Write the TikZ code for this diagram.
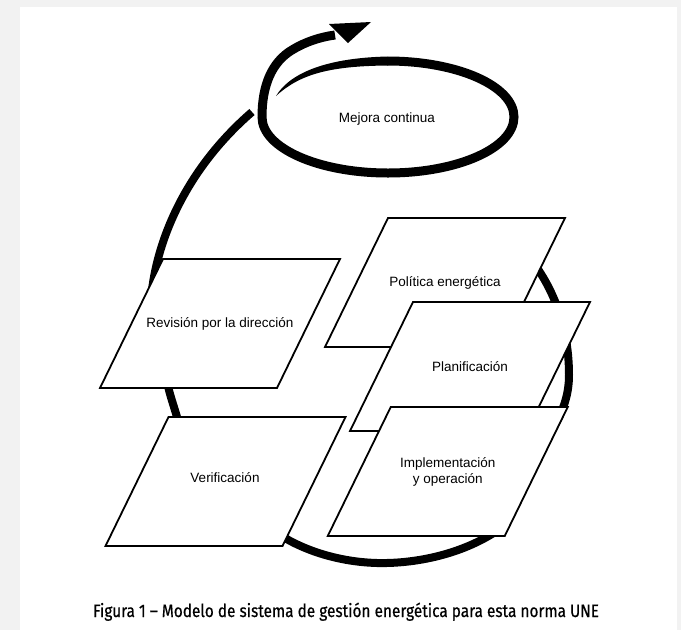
\documentclass[tikz,border=0pt]{standalone}
\usepackage{fontspec}
\setmainfont{Liberation Sans}
\newfontfamily\capfont{Fira Sans}[FakeBold=0.6]
\usepackage{graphicx}
\definecolor{bggray}{HTML}{F2F2F2}
\tikzset{
  loopline/.style={line width=8pt, line cap=butt, black},
  spiralline/.style={line width=9pt, line cap=butt, black},
  pgramstyle/.style={fill=white, draw=black, line width=1.8pt, line join=miter},
  boxtext/.style={font=\fontsize{13.5}{16}\selectfont, align=center, inner sep=0pt},
  captext/.style={font=\capfont\fontsize{18}{20}\selectfont, inner sep=0pt, anchor=base}
}
\newcommand{\pgram}[4]{%
  \filldraw[pgramstyle] (#2-57,#3-64.5) -- (#2+120,#3-64.5) -- (#2+57,#3+64.5) -- (#2-120,#3+64.5) -- cycle;
  \node[boxtext] (#1) at (#2,#3) {#4};
}
\begin{document}
\begin{tikzpicture}[x=1pt,y=-1pt]
\useasboundingbox (0,0) rectangle (681,630);
\fill[bggray] (0,0) rectangle (681,630);
\fill[white] (20,7) rectangle (677,630);

% big loop (drawn under the boxes)
\draw[loopline] (518,245) .. controls (548,275) and (569,320) .. (569,375)
  .. controls (569,395) and (563,410) .. (555,425)
  .. controls (535,460) and (520,500) .. (505,525)
  .. controls (470,552) and (420,564) .. (377,563)
  .. controls (340,562) and (305,551) .. (280,535)
  .. controls (240,510) and (190,460) .. (177,417)
  .. controls (172,400) and (168,390) .. (166,375)
  .. controls (160,340) and (150,310) .. (152,290)
  .. controls (158,240) and (185,170) .. (252,112);

% boxes
\pgram{rev}{220}{323.5}{Revisión por la dirección}
\pgram{ver}{225.5}{481.5}{}
\node[boxtext] (vertext) at (225,478) {Verificación};
\pgram{pol}{445}{282.5}{Política energética}
\pgram{plan}{470}{366.5}{Planificación}
\pgram{impl}{447.75}{471.5}{Implementación\\y operación}

% continual improvement spiral
\fill (276,96) .. controls (288,76) and (320,58) .. (388,56.5)
  -- (388,65.5) .. controls (330,66) and (300,74) .. (276,96) -- cycle;
\draw[spiralline] (387.5,61) .. controls (457.6,61) and (514,86) .. (514,117)
  .. controls (514,148) and (457.6,173) .. (388,173)
  .. controls (318.4,173) and (262,148) .. (262,117)
  .. controls (262,85) and (272,62) .. (292,50)
  .. controls (305,42) and (320,37) .. (335,35);
\fill (329,24) -- (371,22) -- (348,43) -- cycle;
\node[boxtext] (mejora) at (387,119) {Mejora continua};

% caption
\node[captext] (caption) at (346,617) {\scalebox{0.855}[1]{Figura 1 – Modelo de sistema de gestión energética para esta norma UNE}};
\end{tikzpicture}
\end{document}
